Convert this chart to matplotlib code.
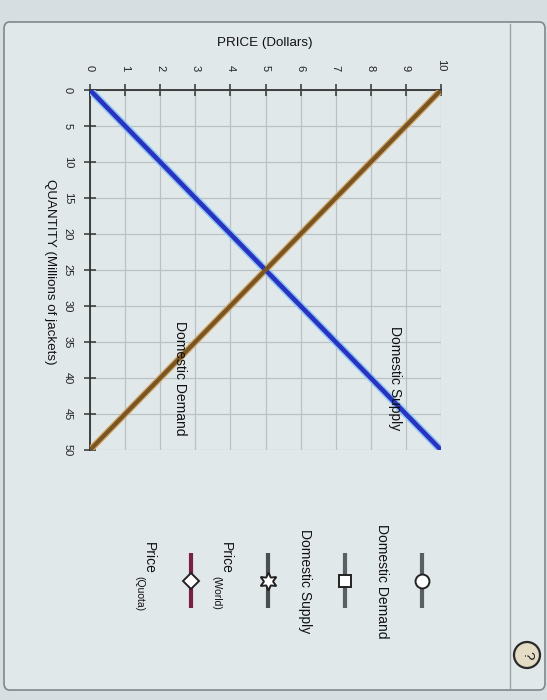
import matplotlib
matplotlib.use("Agg")
import matplotlib.pyplot as plt
from matplotlib.patches import FancyBboxPatch, Circle
from matplotlib.lines import Line2D

plt.rcParams['font.family'] = ['Liberation Sans', 'DejaVu Sans']

# ---- data ----
price_ticks = [0, 1, 2, 3, 4, 5, 6, 7, 8, 9, 10]
quantity_ticks = [0, 5, 10, 15, 20, 25, 30, 35, 40, 45, 50]
supply_price = [0, 10]
supply_qty = [0, 50]
demand_price = [10, 0]
demand_qty = [0, 50]
legend_labels = ["Domestic Demand", "Domestic Supply", "Price", "Price"]
legend_subs = ["", "", "(World)", "(Quota)"]
legend_markers = ["o", "s", (6, 1, 0), "D"]
legend_colors = ["#5a5f61", "#5a5f61", "#4a4e50", "#7a1f45"]

W, H = 547, 700
fig = plt.figure(figsize=(W / 100, H / 100), dpi=100, facecolor="#d6dee1")

def fx(px):
    return px / W

def fy(py):
    return 1 - py / H

# panel
panel = FancyBboxPatch((fx(4), fy(690)), fx(541), fy(22) - fy(690),
                       boxstyle="round,pad=0,rounding_size=0.01",
                       transform=fig.transFigure, facecolor="#e1e8ea",
                       edgecolor="#7f888b", linewidth=1.2, zorder=-5)
fig.patches.append(panel)
fig.add_artist(Line2D([fx(510), fx(510)], [fy(24), fy(688)], transform=fig.transFigure,
                      color="#9aa3a6", lw=1.0, zorder=-4))

# main axes
ax = fig.add_axes([fx(90), fy(450), fx(441) - fx(90), fy(90) - fy(450)], zorder=2)
ax.set_facecolor("none")
ax.set_xlim(0, 10)
ax.set_ylim(50, 0)
ax.xaxis.tick_top()
ax.set_xticks(price_ticks)
ax.set_yticks(quantity_ticks)
ax.set_xticklabels([str(v) for v in price_ticks], rotation=-90, fontsize=8, color="#222")
ax.set_yticklabels([str(v) for v in quantity_ticks], rotation=-90, fontsize=8, color="#222",
                   va="center")
ax.tick_params(axis="x", direction="inout", length=9, width=1.1, color="#333", pad=9)
ax.tick_params(axis="y", direction="inout", length=9, width=1.1, color="#333", pad=8)
for s in ["right", "bottom"]:
    ax.spines[s].set_visible(False)
for s in ["top", "left"]:
    ax.spines[s].set_color("#333")
    ax.spines[s].set_linewidth(1.3)
ax.grid(True, color="#b9c1c4", lw=0.9)
ax.set_axisbelow(True)

# lines with halo
ax.plot(supply_price, supply_qty, color="#8ec6f5", lw=5.5, solid_capstyle="butt", zorder=3)
ax.plot(supply_price, supply_qty, color="#2a33c0", lw=3.3, solid_capstyle="butt", zorder=4)
ax.plot(demand_price, demand_qty, color="#d3a86a", lw=4.8, solid_capstyle="butt", zorder=3)
ax.plot(demand_price, demand_qty, color="#7a5524", lw=3, solid_capstyle="butt", zorder=4)

ax.text(8.69, 40, "Domestic Supply", rotation=-90, ha="center", va="center",
        fontsize=10, color="#111", zorder=5)
ax.text(2.56, 40, "Domestic Demand", rotation=-90, ha="center", va="center",
        fontsize=10, color="#111", zorder=5)

fig.text(fx(265), fy(43), "PRICE (Dollars)", ha="center", va="center", fontsize=9.6, color="#111")
fig.text(fx(50), fy(272), "QUANTITY (Millions of jackets)", rotation=-90, ha="center",
         va="center", fontsize=9.6, color="#111")

# legend
marker_x = [422, 345, 268, 191]
for i, (lab, sub, mk, col) in enumerate(zip(legend_labels, legend_subs, legend_markers, legend_colors)):
    mxp = marker_x[i]
    fig.add_artist(Line2D([fx(mxp), fx(mxp)], [fy(553), fy(608)], transform=fig.transFigure,
                          color=col, lw=3, solid_capstyle="butt"))
    ms = {"o": 10, "s": 8, "D": 8}.get(mk, 13) if isinstance(mk, str) else 13
    fig.add_artist(Line2D([fx(mxp)], [fy(581)], transform=fig.transFigure, marker=mk,
                          markersize=ms, markerfacecolor="white", markeredgecolor="#222",
                          markeredgewidth=1.4, linestyle="none"))
    if sub:
        fig.text(fx(mxp - 42), fy(542), lab, rotation=-90, ha="center", va="top",
                 fontsize=10, color="#111")
        fig.text(fx(mxp - 52), fy(576), sub, rotation=-90, ha="center", va="top",
                 fontsize=7.5, color="#111")
    else:
        fig.text(fx(mxp - 40), fy(581), lab, rotation=-90, ha="center", va="center",
                 fontsize=10, color="#111")

# help icon (in inches so it stays round)
fig.add_artist(Circle((5.27, (H - 655) / 100), 0.13, transform=fig.dpi_scale_trans,
                      facecolor="#e4dcc4", edgecolor="#2a2a2a", lw=1.6))
fig.text(fx(527), fy(655), "?", rotation=-90, ha="center", va="center", fontsize=11,
         color="#222")

fig.savefig("out.png", dpi=100, facecolor=fig.get_facecolor())
